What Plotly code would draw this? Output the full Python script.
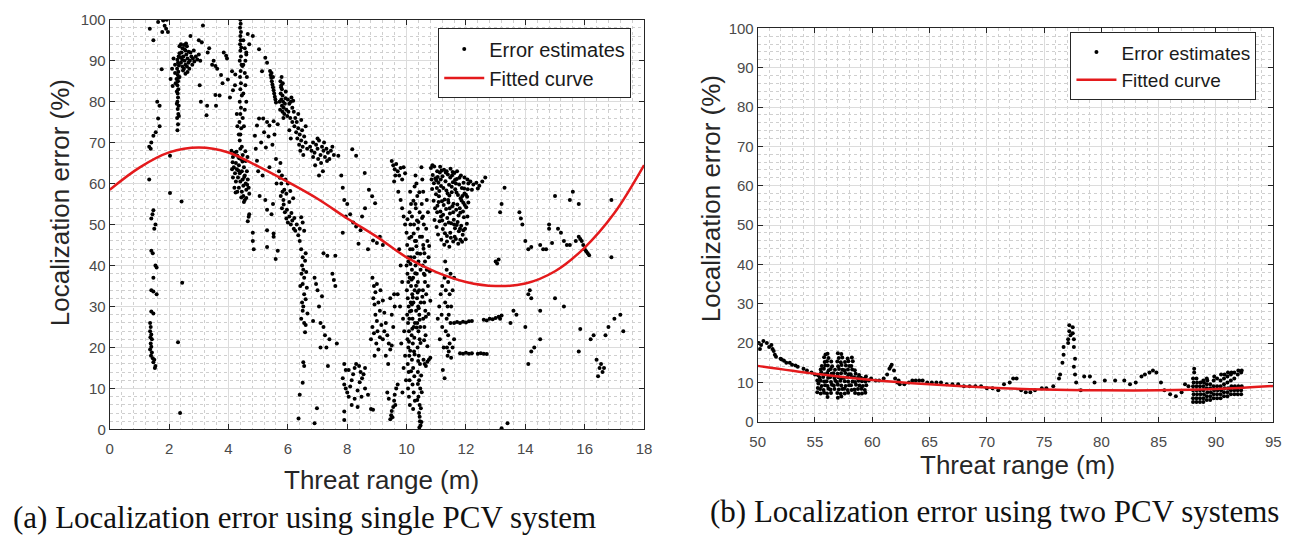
import plotly.graph_objects as go

# ---------------- Left panel (single PCV system) ----------------
L_streak1 = [(1.35,97.8),(1.47,95.0),(1.47,71.7),(1.40,70.0),(1.33,69.0),(1.38,68.5),(1.33,61.0),(1.47,53.5),(1.40,51.5),(1.54,50.0),(1.50,49.0),(1.44,52.5),(1.40,43.6),(1.45,43.0),(1.54,40.0),(1.58,39.5),(1.47,37.0),(1.40,34.0),(1.47,33.7),(1.58,33.0),(1.40,28.8),(1.47,28.3),(1.36,26.0),(1.38,25.0),(1.36,24.0),(1.40,23.2),(1.37,22.5),(1.42,22.0),(1.38,21.0),(1.40,20.2),(1.36,19.5),(1.42,18.8),(1.39,18.0),(1.45,17.4),(1.50,17.0),(1.47,16.4),(1.54,15.5),(1.52,15.0)]
L_a2 = [(1.60,80.0),(1.68,79.0),(1.63,75.9),(1.68,74.0),(1.55,72.5),(1.75,87.9),(1.63,99.4),(1.80,99.8),(1.90,97.8),(1.77,97.0),(1.96,97.0),(1.85,98.5),(1.92,100),(2.03,57.7),(2.03,66.8)]
L_streak23 = [(2.28,73.0),(2.30,74.5),(2.27,76.0),(2.31,77.0),(2.29,78.2),(2.32,79.0),(2.28,80.0),(2.30,81.0),(2.29,82.0),(2.31,83.0),(2.28,84.0),(2.30,85.0),(2.32,85.8),(2.29,86.5),(2.31,87.3),(2.27,88.0),(2.33,88.8),(2.30,89.5),(2.28,90.2),(2.32,91.0),(2.25,85.5),(2.22,84.5),(2.20,87.0),(2.35,86.0),(2.26,79.5),(2.33,76.5),(2.26,82.5)]
L_blob25 = [(2.35,93.5),(2.40,94.0),(2.45,93.0),(2.50,93.8),(2.55,92.5),(2.60,93.5),(2.42,92.0),(2.48,91.0),(2.52,90.0),(2.58,91.5),(2.62,90.5),(2.40,89.5),(2.45,88.5),(2.50,88.0),(2.55,89.0),(2.60,88.6),(2.65,89.5),(2.70,90.0),(2.75,91.0),(2.80,90.5),(2.85,89.8),(2.90,91.0),(2.95,90.3),(3.00,91.5),(3.05,90.0),(2.68,88.0),(2.72,92.0),(2.78,89.0),(2.38,90.8),(2.35,91.8),(2.62,87.2),(2.55,86.8),(2.47,87.6),(2.83,92.5),(2.20,89.0),(2.15,90.5),(2.10,88.0),(2.05,85.5),(2.12,83.8),(2.57,94.2),(2.66,92.2),(2.52,92.8),(2.44,90.2)]
L_a3 = [(2.37,4.0),(2.30,21.3),(2.44,35.8),(2.42,55.6),(2.72,96.0),(3.00,95.0),(3.14,98.6),(3.10,94.5),(3.35,93.0),(3.30,92.0),(3.50,90.0),(3.56,88.7),(3.62,88.0),(3.45,89.0),(3.03,84.0),(3.07,80.0),(3.28,79.0),(3.26,76.7),(3.56,81.6),(3.58,79.0),(3.84,92.0),(3.92,91.2),(3.95,90.5),(3.75,86.5),(3.80,84.5),(3.70,81.5)]
L_col44 = [(4.40,100),(4.41,99.0),(4.39,98.0),(4.42,97.0),(4.40,96.0),(4.41,95.0),(4.39,94.0),(4.43,93.2),(4.40,92.4),(4.42,91.0),(4.38,90.0),(4.44,89.0),(4.41,87.5),(4.39,86.0),(4.42,84.5),(4.40,83.0),(4.45,81.5),(4.38,80.0),(4.42,78.5),(4.40,77.0),(4.37,75.0),(4.43,73.5),(4.40,72.0),(4.38,70.5),(4.45,69.0),(4.50,95.0),(4.55,93.0),(4.60,91.5),(4.50,89.0),(4.55,87.0),(4.62,86.0),(4.57,84.0),(4.50,82.0),(4.60,80.0),(4.55,78.0),(4.48,76.0),(4.52,74.0),(4.30,74.0),(4.35,72.0),(4.28,77.0),(4.22,84.0),(4.12,87.4),(4.23,86.6),(3.98,85.4),(4.15,82.8),(4.05,81.0),(4.47,88.7),(4.57,90.0),(4.60,92.0),(4.82,96.0),(4.70,94.0),(4.65,96.5)]
L_cl45 = [(4.10,68.0),(4.15,66.5),(4.20,67.5),(4.25,65.0),(4.30,66.8),(4.18,64.0),(4.22,62.5),(4.28,63.5),(4.32,61.5),(4.35,64.5),(4.38,62.5),(4.40,60.5),(4.42,66.0),(4.45,63.0),(4.48,61.0),(4.50,59.5),(4.52,64.0),(4.55,62.0),(4.58,60.0),(4.60,58.5),(4.62,63.0),(4.65,61.0),(4.68,59.0),(4.70,57.5),(4.50,57.0),(4.55,56.0),(4.45,58.0),(4.35,59.0),(4.25,60.5),(4.15,61.5),(4.12,63.5),(4.40,68.5),(4.48,67.0),(4.58,65.5),(4.64,66.5),(4.30,58.0),(4.52,55.5),(4.60,56.5),(4.20,59.0),(4.68,51.9),(4.65,50.8),(4.70,52.5),
          (4.14,65.2),(4.27,67.8),(4.33,63.2),(4.47,65.4),(4.53,61.6),(4.63,59.7),(4.43,56.6),(4.24,57.8),(4.57,67.9),(4.36,66.2)]
L_a5 = [(4.82,48.0),(4.82,46.0),(4.85,44.0),(4.96,74.2),(5.03,75.9),(5.17,75.9),(5.30,75.0),(5.38,74.2),(5.52,75.2),(5.66,74.5),(4.89,71.7),(5.10,70.0),(5.26,68.8),(4.92,68.5),(4.96,65.6),(5.38,64.0),(5.24,56.0),(5.30,53.6),(5.30,48.6),(5.52,47.8),(5.52,47.0),(5.30,44.5),(5.66,43.6),(5.59,41.6),(5.03,92.8),(5.13,87.4),(5.24,90.7),(5.30,89.5),(5.05,57.0),(5.00,63.0),(5.15,62.0),(5.45,52.5),(5.50,55.0),(5.62,60.0),(5.60,66.0),(5.48,69.5),(5.55,72.0),(5.35,71.5),(5.20,72.5)]
L_s55 = [(5.40,87.5),(5.42,86.5),(5.44,85.8),(5.46,85.0),(5.48,84.2),(5.50,83.5),(5.52,82.8),(5.54,82.0),(5.56,81.2),(5.58,80.5),(5.60,79.8),(5.45,87.0),(5.50,86.0)]
L_d58 = [(5.75,85.0),(5.78,84.0),(5.80,83.0),(5.76,82.0),(5.82,81.5),(5.78,80.5),(5.84,80.0),(5.80,79.0),(5.86,78.5),(5.82,77.5),(5.88,77.0),(5.90,79.5),(5.92,80.8),(5.95,78.0),(6.00,80.5),(6.05,79.5),(6.10,80.0),(6.15,78.5),(5.98,76.5),(6.02,77.5),(6.08,76.0),(5.74,78.0),(5.72,80.0),(5.85,76.0),(5.93,82.5),(6.12,81.0),(6.18,80.2),(5.79,86.0),(5.77,83.5),(5.83,84.5)]
L_b58 = [(5.75,65.0),(5.80,62.0),(5.78,60.0),(5.82,58.0),(5.76,57.0),(5.85,56.0),(5.80,54.0),(5.90,53.0),(5.95,51.5),(6.00,50.5),(6.05,52.0),(6.10,50.0),(6.15,51.0),(6.20,49.0),(6.25,48.5),(6.30,50.0),(6.40,49.0),(6.50,50.5),(6.55,48.5),(5.88,58.5),(5.95,57.5),(6.05,55.5),(6.00,60.0),(5.70,63.0),(6.40,46.0),(6.60,43.0),
         (5.73,61.4),(5.86,54.9),(5.97,53.6),(6.12,52.8),(6.22,51.6),(6.35,47.4),(6.45,51.8),(5.92,61.0),(6.08,58.2),(6.18,56.4)]
L_e60 = [(6.20,77.5),(6.25,76.0),(6.30,75.0),(6.22,74.0),(6.35,73.5),(6.28,72.5),(6.40,72.0),(6.32,71.0),(6.45,70.5),(6.38,69.5),(6.50,69.0),(6.42,68.0),(6.55,71.5),(6.48,73.0),(6.60,70.0),(6.52,67.0),(6.65,68.5),(6.35,77.0),(6.45,75.5),(6.60,74.0),(6.15,75.0),(6.05,73.0),(6.10,71.0)]
L_f70 = [(6.75,69.0),(6.80,68.0),(6.85,70.0),(6.90,67.5),(6.95,69.5),(7.00,68.5),(7.05,70.5),(7.10,67.0),(7.15,69.0),(7.20,68.0),(7.25,66.5),(7.30,68.5),(7.35,67.5),(7.40,66.0),(7.45,68.0),(7.50,69.0),(7.02,66.0),(7.12,65.0),(6.92,64.5),(7.22,70.0),(7.32,65.5),(7.00,71.0),(6.85,66.5),(7.55,67.0),(7.18,63.0),(7.05,62.0)]
L_g64 = [(6.45,44.0),(6.50,42.0),(6.48,40.0),(6.52,39.0),(6.46,38.0),(6.55,37.0),(6.50,35.5),(6.42,35.0),(6.55,33.0),(6.48,31.0),(6.52,30.0),(6.50,29.0),(6.45,27.0),(6.55,26.0),(6.60,25.5),(6.40,8.5),(6.36,2.7),(6.50,11.4),(6.52,16.4),(6.55,15.5),(6.90,1.5),(6.98,5.2),
         (6.58,41.2),(6.62,38.4),(6.64,34.6),(6.60,31.8),(6.66,28.3),(6.58,23.7)]
L_h70 = [(6.90,37.0),(7.00,34.0),(6.95,35.5),(7.10,26.0),(6.85,26.5),(7.20,25.0),(7.25,23.0),(7.30,20.0),(7.40,22.0),(7.50,38.0),(7.60,35.0),(7.55,36.5),(7.20,43.0),(7.33,42.4),(7.60,42.4),(7.05,30.0),(7.15,32.5),(7.65,21.0),(7.35,15.5),(7.10,20.0)]
L_i75 = [(7.70,66.8),(7.80,62.0),(7.85,59.0),(7.90,56.0),(8.17,68.4),(8.30,66.8),(8.00,55.0),(8.10,52.5),(8.45,48.6),(8.38,45.3),(8.59,62.6),(8.73,58.5),(8.84,56.9),(8.94,55.2),(8.87,46.1),(9.00,45.5),(9.10,47.0),(9.20,45.0),(8.20,50.5),(8.30,49.5),(8.50,52.0),(8.60,54.0),(7.95,52.0),(7.85,48.0),(8.70,44.0)]
L_j80 = [(7.90,16.0),(7.95,14.5),(7.85,12.5),(7.90,11.0),(7.95,10.0),(8.00,9.0),(8.05,8.0),(8.10,10.5),(8.15,12.0),(8.20,13.5),(8.25,15.0),(8.30,16.0),(8.40,15.5),(8.45,14.0),(8.50,12.5),(8.55,13.5),(8.60,15.0),(8.42,11.5),(8.35,9.5),(8.48,8.0),(8.25,7.5),(8.15,6.0),(7.90,4.4),(7.90,2.3),(8.60,10.0),(8.70,8.5),(8.05,14.5),(8.35,5.5),(8.80,5.0),(8.87,4.8)]
L_k90 = [(8.85,37.0),(8.90,35.0),(8.95,33.5),(9.00,35.5),(8.88,32.0),(8.92,30.5),(9.05,31.0),(9.10,29.0),(8.95,28.0),(9.00,26.5),(8.85,25.0),(8.90,23.5),(9.02,24.0),(9.10,22.5),(8.80,22.0),(9.15,25.5),(9.20,22.0),(9.25,24.0),(9.30,26.0),(9.35,23.0),(9.40,21.0),(9.45,19.5),(9.50,20.5),(9.38,16.0),(9.30,18.0),(9.55,25.0),(9.60,30.0),(9.58,33.0),(9.50,28.0),(9.20,31.5),(9.12,34.0),(8.98,21.0),(9.05,19.5),(8.92,18.0),(9.25,28.5),(9.45,32.0)]
L_l95 = [(9.45,2.5),(9.48,3.5),(9.50,4.5),(9.52,3.0),(9.55,5.5),(9.58,7.0),(9.60,8.5),(9.62,6.0),(9.40,7.5),(9.65,10.0),(9.70,11.0),(9.35,9.0)]
L_m100 = [(9.50,65.5),(9.55,64.5),(9.60,63.5),(9.65,64.8),(9.70,63.0),(9.75,62.0),(9.80,63.8),(9.85,61.0),(9.62,62.0),(9.90,64.0),(9.95,62.5),(9.72,58.0),(9.80,56.0),(9.85,54.0),(9.90,52.0),(9.95,50.0),(9.58,60.5),
          (9.75,44),(9.80,40),(9.85,36),(9.70,33),(9.78,30),(9.88,27),(9.92,24),(9.82,21),(9.95,18),(9.90,15),(9.98,12),(9.86,9)]
L_n102 = [(10.00,48),(10.02,45),(10.05,42),(10.00,40),(10.03,38),(10.06,36),(10.01,34),(10.04,32),(10.07,30),(10.02,28),(10.05,26),(10.08,24),(10.03,22),(10.06,20),(10.09,18),(10.04,16),(10.07,14),(10.10,12),(10.05,10),(10.08,8),(10.11,6),
          (10.12,58),(10.15,55),(10.18,52),(10.13,50),(10.16,47),(10.20,44),(10.14,42),(10.18,39),(10.22,37),(10.15,35),(10.19,33),(10.23,31),(10.16,29),(10.20,27),(10.24,25),(10.17,23),(10.21,21),(10.25,19),(10.18,17),(10.22,15),(10.26,13),(10.20,11),(10.24,9),(10.28,7),(10.22,5),
          (10.30,62),(10.33,60),(10.36,57),(10.31,54),(10.35,51),(10.38,49),(10.32,46),(10.36,43),(10.40,41),(10.34,38),(10.38,36),(10.42,34),(10.35,32),(10.39,30),(10.43,28),(10.36,26),(10.40,24),(10.44,22),(10.37,20),(10.41,18),(10.45,16),(10.38,14),(10.42,12),(10.46,10),(10.40,8),(10.44,6),(10.42,4),(10.45,2),(10.47,1),(10.43,0.5),
          (10.50,64),(10.53,61),(10.56,58),(10.51,55),(10.55,52),(10.58,50),(10.52,47),(10.56,45),(10.60,43),(10.54,40),(10.58,38),(10.62,36),(10.55,34),(10.59,31),(10.63,29),(10.56,27),(10.60,25),(10.64,23),(10.57,17),(10.61,16),(10.65,15.5),(10.70,16.5),(10.75,17),(10.80,17.5),(10.68,56),(10.72,53),(10.66,49),(10.70,46),(10.74,42),(10.68,39),(10.72,35),
          (10.10,53),(10.25,50),(10.28,46),(10.12,44),(10.30,40),(10.10,37),(10.27,34),(10.32,29),(10.14,31),(10.28,26),(10.09,27),(10.26,42),(10.45,47),(10.47,39),(10.48,31),(10.46,25),(10.30,55),(10.44,53),(10.62,41),(10.66,33),
          (10.03,51.3),(10.09,46.7),(10.13,40.4),(10.17,36.6),(10.21,32.2),(10.11,28.8),(10.19,24.6),(10.08,21.4),(10.27,18.3),(10.15,14.2),(10.33,44.7),(10.29,38.1),(10.37,33.4),(10.41,29.6),(10.34,24.9),(10.47,21.1),(10.39,16.7),(10.49,13.2),(10.51,9.1),(10.36,7.2),(10.23,55.8),(10.27,59.3),(10.43,57.9),(10.52,51.6),(10.57,44.1),(10.61,37.7),(10.53,32.4),(10.65,27.5),(10.59,21.8),(10.06,41.0),(10.24,47.8),(10.40,50.6),(10.46,42.9),(10.32,35.1),(10.18,30.5),(10.44,26.8),(10.26,22.4),(10.12,19.2),(10.38,11.1),(10.48,5.2),(10.44,3.1),(10.50,1.8),(10.76,44.8),(10.78,38.6),(10.80,31.4),(10.74,28.2),(10.70,20.3)]
L_o110 = [(10.82,63.8),(10.88,62.1),(10.93,64.2),(10.97,61.3),(11.03,63.0),(11.07,60.2),(11.12,62.7),(11.16,59.4),(11.21,61.8),(11.26,63.4),(11.31,60.6),(11.34,58.3),(11.39,62.2),(11.43,59.7),(11.47,61.5),(11.52,57.9),(11.56,60.3),(11.61,62.6),(11.64,58.6),(11.69,61.1),(11.73,57.2),(11.77,59.8),(11.82,56.4),(11.86,58.9),(11.91,55.3),(11.95,57.6),(12.01,54.2),(12.04,56.8),
          (10.86,58.7),(10.91,55.8),(10.99,57.4),(11.04,54.6),(11.09,56.9),(11.14,53.2),(11.19,55.7),(11.23,52.4),(11.28,56.1),(11.33,53.8),(11.37,51.6),(11.41,55.4),(11.46,52.7),(11.50,50.3),(11.54,54.5),(11.59,51.2),(11.63,49.1),(11.67,53.6),(11.72,50.6),(11.76,48.4),(11.81,52.9),(11.84,49.7),(11.89,47.5),(11.93,51.8),(11.97,49.0),(12.03,50.2),
          (10.94,51.1),(11.01,49.4),(11.06,47.6),(11.11,50.8),(11.17,46.3),(11.22,48.9),(11.27,45.1),(11.36,47.2),(11.44,44.6),(11.49,46.8),(11.57,45.9),(11.66,46.5),(11.74,45.3),(11.87,45.8),(11.99,46.4),
          (10.84,61.0),(11.00,60.8),(11.24,58.9),(11.44,57.1),(11.58,55.1),(11.79,54.0),(11.92,60.2),(11.70,63.0),(11.48,63.6),(11.13,64.1),(10.96,54.0),(11.30,50.0),(11.62,47.0),(11.83,62.0),
          (11.05,61.6),(11.18,63.2),(11.35,63.0),(11.55,62.8),(11.66,60.0),(11.88,57.0),(12.06,58.6),(11.10,58.2),(11.40,56.0),(11.52,59.2),(11.75,52.2),(11.96,54.8),(11.20,51.0),(11.42,50.5),(11.60,50.0),(11.80,49.0),
          (10.87,64.5),(10.92,60.1),(11.02,58.9),(11.08,55.5),(11.15,61.0),(11.25,54.8),(11.32,62.7),(11.38,57.6),(11.45,54.0),(11.53,62.0),(11.57,53.0),(11.63,60.9),(11.68,57.8),(11.71,54.9),(11.78,61.4),(11.85,55.9),(11.90,53.2),(11.94,58.8),(12.00,57.3),(12.08,55.4),(11.16,52.0),(11.29,47.9),(11.47,48.0),(11.69,49.9),(11.91,48.6),(12.05,52.0),(11.03,53.0),(11.36,45.9),(11.81,46.3),(12.08,60.0)]
L_p113 = [(11.30,41),(11.35,39),(11.28,37),(11.40,36),(11.32,34),(11.45,33),(11.30,31),(11.38,30),(11.42,28),(11.35,27),(11.48,26),(11.32,24),(11.40,23),(11.45,21),(11.36,20),(11.42,19),(11.38,18),(11.50,17.5),(11.55,20),(11.60,22),(11.50,30),(11.55,34),(11.48,38),(11.60,37),(11.20,35),(11.15,33),(11.10,30),(11.18,28),(11.05,27),(11.20,25),(11.12,22),(11.25,20),(11.22,14.5),(11.28,12.5)]
L_q120 = [(11.60,26),(11.70,26.2),(11.80,26),(11.90,26.3),(12.00,26.1),(12.10,26.4),(12.20,26.5),(12.60,26.8),(12.70,26.6),(12.80,27),(12.90,26.9),(13.00,27.2),(13.10,27.5),(13.20,27.8),(13.15,27),
          (11.80,18.6),(11.90,18.5),(12.00,18.7),(12.10,18.5),(12.20,18.6),(12.40,18.5),(12.50,18.6),(12.60,18.5),(12.70,18.4),
          (12.05,61),(12.15,60.5),(12.25,59.8),(12.35,60.2),(12.45,59.5),(12.55,60.5),(12.65,61.5),(12.20,58.5),(12.40,58.8),(11.95,61.5)]
L_r130 = [(13.00,41),(13.10,41.5),(13.05,40.5),(13.20,55),(13.30,59),(13.15,53),(13.50,26),(13.70,28),(13.80,53),(13.85,51.5),(13.90,50),(14.00,46),(14.10,44),(14.20,44.5),(14.50,45),(14.60,44),(14.80,49),(14.90,45.5),(15.00,57),(15.20,48),(15.30,46),(15.40,45),(15.60,58),(15.70,46),(15.80,47),(15.85,46.5),(15.90,46),(15.95,45),(16.00,44),(16.05,43.5),(16.10,43),(16.15,42.5),(14.10,33),(14.20,32),(14.15,34),(14.50,29),(15.00,32),(15.30,30),(15.80,19),(15.85,24.5),(16.20,22),(16.30,23),(16.40,17),(16.50,15),(16.55,16),(16.60,14),(16.65,15),(16.45,13),(16.70,23),(16.80,25),(17.00,27),(17.20,28),(17.30,24),(13.40,1.5),(13.20,0.3),(14.00,25),(14.50,22),(14.30,20),(14.20,19),(14.10,16),(16.90,56),(16.90,42),(15.50,56),(15.80,55),(14.80,50),(15.50,45),(13.60,29),(14.70,44),(15.10,49)]

left_clusters = [L_streak1, L_a2, L_streak23, L_blob25, L_a3, L_col44, L_cl45, L_a5, L_s55, L_d58, L_b58,
                 L_e60, L_f70, L_g64, L_h70, L_i75, L_j80, L_k90, L_l95, L_m100, L_n102, L_o110, L_p113, L_q120, L_r130]

left_fit_x = [0, 1, 2, 3, 4, 5, 6, 7, 8, 9, 10, 11, 12, 13, 14, 15, 16, 17, 18]
left_fit_y = [58.5, 63.9, 67.6, 68.8, 67.6, 64.2, 60.4, 56.3, 51.5, 47.0, 42.0, 38.4, 36.0, 35.0, 35.6, 38.6, 44.4, 52.8, 64.5]

# ---------------- Right panel (two PCV systems) ----------------
R_start = [(50.1,20),(50.3,19.5),(50.5,20.5),(50.8,20),(51.0,19),(51.2,19.5),(51.3,18.5),(51.5,17),(51.6,16.5),(52.0,16),(52.3,15.5),(52.5,15),(52.8,15),(53.0,14.5),(53.3,14.3),(53.5,14),(54.0,13.5),(54.3,13),(54.7,12.5),(55.0,12),(50.2,18.5),(51.4,18),(52.1,15.8)]
R_cloud1 = [(55.2,7.5),(55.25,8.6),(55.3,9.7),(55.2,10.5),(55.27,11.8),
            (55.5,7.2),(55.45,8.3),(55.58,9.1),(55.5,10.4),(55.42,11.2),(55.55,12.6),(55.5,13.3),(55.6,14.2),
            (55.8,7.4),(55.75,8.1),(55.88,9.3),(55.8,10.2),(55.72,11.4),(55.85,12.1),(55.78,13.5),(55.9,14.3),(55.85,15.2),(55.8,16.4),(55.92,17.1),
            (56.1,6.3),(56.05,7.2),(56.18,8.4),(56.1,9.1),(56.02,10.3),(56.15,11.2),(56.08,12.4),(56.2,13.1),(56.12,14.3),(56.05,15.4),(56.18,16.2),(56.1,17.3),
            (56.4,7.3),(56.35,8.2),(56.48,9.4),(56.4,10.1),(56.32,11.3),(56.45,12.2),(56.38,13.4),(56.5,14.1),(56.42,15.3),
            (56.7,8.3),(56.65,9.2),(56.78,10.4),(56.7,11.1),(56.62,12.3),(56.75,13.2),
            (57.0,6.1),(56.95,7.3),(57.08,8.2),(57.0,9.4),(56.92,10.1),(57.05,11.3),(56.98,12.2),(57.1,13.4),(57.02,14.1),(56.95,15.3),(57.08,16.2),(57.0,17.4),
            (57.3,6.4),(57.25,7.1),(57.38,8.3),(57.3,9.2),(57.22,10.4),(57.35,11.1),(57.28,12.3),(57.4,13.2),(57.32,14.4),(57.25,15.1),(57.38,16.3),(57.3,17.2),
            (57.6,7.2),(57.55,8.4),(57.68,9.1),(57.6,10.3),(57.52,11.2),(57.65,12.4),(57.58,13.1),(57.7,14.3),(57.62,15.2),
            (57.9,7.4),(57.85,8.1),(57.98,9.3),(57.9,10.2),(57.82,11.4),(57.95,12.1),(57.88,13.3),(58.0,14.2),(57.92,15.4),(57.85,16.1),
            (58.2,8.1),(58.15,9.3),(58.28,10.2),(58.2,11.4),(58.12,12.1),(58.25,13.3),(58.18,14.2),(58.3,15.4),(58.22,16.3),
            (58.5,7.3),(58.45,8.2),(58.58,9.4),(58.5,10.1),(58.42,11.3),(58.55,12.2),(58.48,13.1),
            (58.8,7.1),(58.75,8.3),(58.88,9.2),(58.8,10.4),(58.72,11.1),(58.85,11.9),
            (59.1,7.2),(59.05,8.4),(59.18,9.1),(59.1,10.3),(59.02,11.2),
            (59.4,7.4),(59.35,8.1),(59.48,9.3),(59.4,10.2),(59.32,10.9),(59.45,11.5)]
R_mid = [(59.7,10.5),(59.9,11),(60.3,10.5),(60.6,10.5),(61.0,11),(61.3,12),(61.5,13.5),(61.7,14.5),(61.6,14),(61.9,13),(62.0,11),(62.2,10),(62.4,9.5),(62.3,10.5),(62.8,9.5),(63.2,10),(63.5,10.5),(63.8,10.5),(64.1,10.5),(64.4,10.5),(64.8,10),(65.2,10),(65.6,10),(66.0,10),(66.5,9.5),(67.0,9.5),(67.5,9.5),(68.0,9),(68.5,9),(69.0,9),(69.5,9),(70.0,8.5),(70.5,8.5),(71.0,8),(71.5,9.5),(72.0,10),(72.3,11),(72.6,11),(73.0,8),(73.4,7.5),(73.8,7.5),(74.2,8),(74.8,8.5),(75.2,8.5),(75.8,9)]
R_spike = [(76.3,11),(76.4,12),(76.6,15),(76.7,17),(76.7,19),(77.1,21),(77.2,23),(77.2,24.5),(77.3,22),(77.5,24),(77.6,21),(77.6,19),(77.7,16),(77.6,14),(77.7,12),(77.8,10),(77.1,20),(77.5,22.5)]
R_late = [(78.2,8),(78.5,11.5),(79.0,11.5),(79.4,10),(80.3,10.5),(81.2,10.5),(82.0,10.5),(82.5,9.5),(83.0,10),(83.5,11.5),(83.8,12),(84.2,12.5),(84.5,13),(84.8,12.5),(85.2,10),(85.5,8),(86.0,7),(86.5,6.5),(87.0,7.5),(87.3,9.5),(87.6,9)]
R_cloud2 = [(88.0,5),(88.0,6),(88.05,7),(88.0,8),(88.0,9),(88.05,10),(88.0,11),(88.1,12.5),(88.1,13.5),
            (88.3,5),(88.3,6),(88.35,7),(88.3,8),(88.3,9),(88.35,10),(88.3,11),
            (88.6,5),(88.6,6),(88.65,7),(88.6,8),(88.6,9),(88.65,10),
            (88.9,5),(88.9,6),(88.95,7),(88.9,8),(88.9,9),(88.95,10),(88.9,10.5),
            (89.2,5.5),(89.2,6.5),(89.25,7.5),(89.2,8.5),(89.2,9.5),(89.25,10.5),(89.2,11),
            (89.5,5.5),(89.5,6.5),(89.55,7.5),(89.5,8.5),(89.5,9.5),
            (89.8,6),(89.8,7),(89.85,8),(89.8,9),(89.8,10.5),(89.85,11.5),
            (90.1,6),(90.1,7),(90.15,8),(90.1,9),(90.1,11),
            (90.4,6),(90.4,7),(90.45,8),(90.4,9),(90.4,10.5),(90.45,12),
            (90.7,6.5),(90.7,7.5),(90.75,8.5),(90.7,9.5),(90.7,11),(90.75,12),
            (91.0,6.5),(91.0,7.5),(91.05,8.5),(91.0,10),(91.0,11.5),(91.05,12.5),
            (91.3,7),(91.3,8),(91.35,9),(91.3,10.5),(91.3,12),(91.35,12.5),
            (91.6,7),(91.6,8),(91.65,9),(91.6,11),(91.6,12.5),
            (91.9,7),(91.9,8),(91.95,9),(91.9,12),(91.95,13),
            (92.2,7),(92.2,8),(92.25,9),(92.2,12.5),(92.25,13)]

right_clusters = [R_start, R_cloud1, R_mid, R_spike, R_late, R_cloud2]

right_fit_x = [50, 55, 60, 65, 70, 75, 80, 85, 90, 95]
right_fit_y = [14.2, 12.2, 10.6, 9.5, 8.7, 8.2, 8.0, 8.0, 8.3, 9.1]

# ---------------- Labels ----------------
x_title = "Threat range (m)"
y_title = "Localization error (%)"
caption_a = "(a) Localization error using single PCV system"
caption_b = "(b) Localization error using two PCV systems"
name_pts = "Error estimates"
name_fit = "Fitted curve"

RED = "#e41a1c"
W, H = 1301, 546


def flatten(clusters):
    xs, ys = [], []
    for c in clusters:
        for x, y in c:
            xs.append(x)
            ys.append(y)
    return xs, ys


lx, ly = flatten(left_clusters)
rx, ry = flatten(right_clusters)

fig = go.Figure()
fig.add_trace(go.Scatter(x=lx, y=ly, mode="markers", name=name_pts,
                         marker=dict(color="black", size=4), xaxis="x", yaxis="y", legend="legend"))
fig.add_trace(go.Scatter(x=left_fit_x, y=left_fit_y, mode="lines", name=name_fit, line_shape="spline",
                         line=dict(color=RED, width=2.5), xaxis="x", yaxis="y", legend="legend"))
fig.add_trace(go.Scatter(x=rx, y=ry, mode="markers", name=name_pts,
                         marker=dict(color="black", size=4), xaxis="x2", yaxis="y2", legend="legend2"))
fig.add_trace(go.Scatter(x=right_fit_x, y=right_fit_y, mode="lines", name=name_fit, line_shape="spline",
                         line=dict(color=RED, width=2.5), xaxis="x2", yaxis="y2", legend="legend2"))


def px_x(p):
    return p / W


def px_y(p):
    return 1 - p / H


axis_common = dict(showline=True, linecolor="#262626", linewidth=1, mirror="allticks",
                   ticks="inside", ticklen=5, tickcolor="#262626", tickwidth=1,
                   showgrid=True, gridcolor="#dcdcdc", gridwidth=1, zeroline=False,
                   tickfont=dict(family="Liberation Sans, Arial", size=15, color="#4a4a4a"))
minor_common = dict(showgrid=True, gridcolor="#cfcfcf", griddash="dot", gridwidth=1, ticks="")

fig.update_layout(
    width=W, height=H, margin=dict(l=0, r=0, t=0, b=0),
    paper_bgcolor="white", plot_bgcolor="white",
    xaxis=dict(domain=[px_x(103), px_x(644)], range=[0, 18], dtick=2, anchor="y", ticklabelstandoff=6,
               minor=dict(dtick=0.4, **minor_common), **axis_common),
    yaxis=dict(domain=[1 - 434 / H, 1 - 11 / H], range=[0, 100], dtick=10, anchor="x",
               minor=dict(dtick=2, **minor_common), **axis_common),
    xaxis2=dict(domain=[px_x(759), px_x(1281)], range=[50, 95], dtick=5, anchor="y2", ticklabelstandoff=6,
                minor=dict(dtick=1, **minor_common), **axis_common),
    yaxis2=dict(domain=[1 - 426 / H, 1 - 20 / H], range=[0, 100], dtick=10, anchor="x2",
                minor=dict(dtick=2, **minor_common), **axis_common),
    legend=dict(x=px_x(631), y=px_y(20), xanchor="right", yanchor="top",
                bgcolor="white", bordercolor="#262626", borderwidth=1,
                font=dict(family="Liberation Sans, Arial", size=20, color="#1a1a1a"),
                tracegroupgap=0, itemwidth=40),
    legend2=dict(x=px_x(1264), y=px_y(24), xanchor="right", yanchor="top",
                 bgcolor="white", bordercolor="#262626", borderwidth=1,
                 font=dict(family="Liberation Sans, Arial", size=19, color="#1a1a1a"),
                 tracegroupgap=0, itemwidth=40),
    showlegend=True,
)

title_font = dict(family="Liberation Sans, Arial", size=26, color="#262626")
cap_font = dict(family="Liberation Serif, Times New Roman", size=31, color="#111111")
ann = [
    dict(text=x_title, x=px_x(378), y=px_y(486), font=title_font),
    dict(text=y_title, x=px_x(52), y=px_y(200), font=title_font, textangle=-90),
    dict(text=x_title, x=px_x(1022), y=px_y(471), font=title_font),
    dict(text=y_title, x=px_x(712), y=px_y(196), font=title_font, textangle=-90),
    dict(text=caption_a, x=px_x(300), y=px_y(525), font=cap_font),
    dict(text=caption_b, x=px_x(999), y=px_y(519), font=cap_font),
]
for a in ann:
    fig.add_annotation(xref="paper", yref="paper", showarrow=False, xanchor="center", yanchor="middle", **a)

fig.write_html("out.html")
